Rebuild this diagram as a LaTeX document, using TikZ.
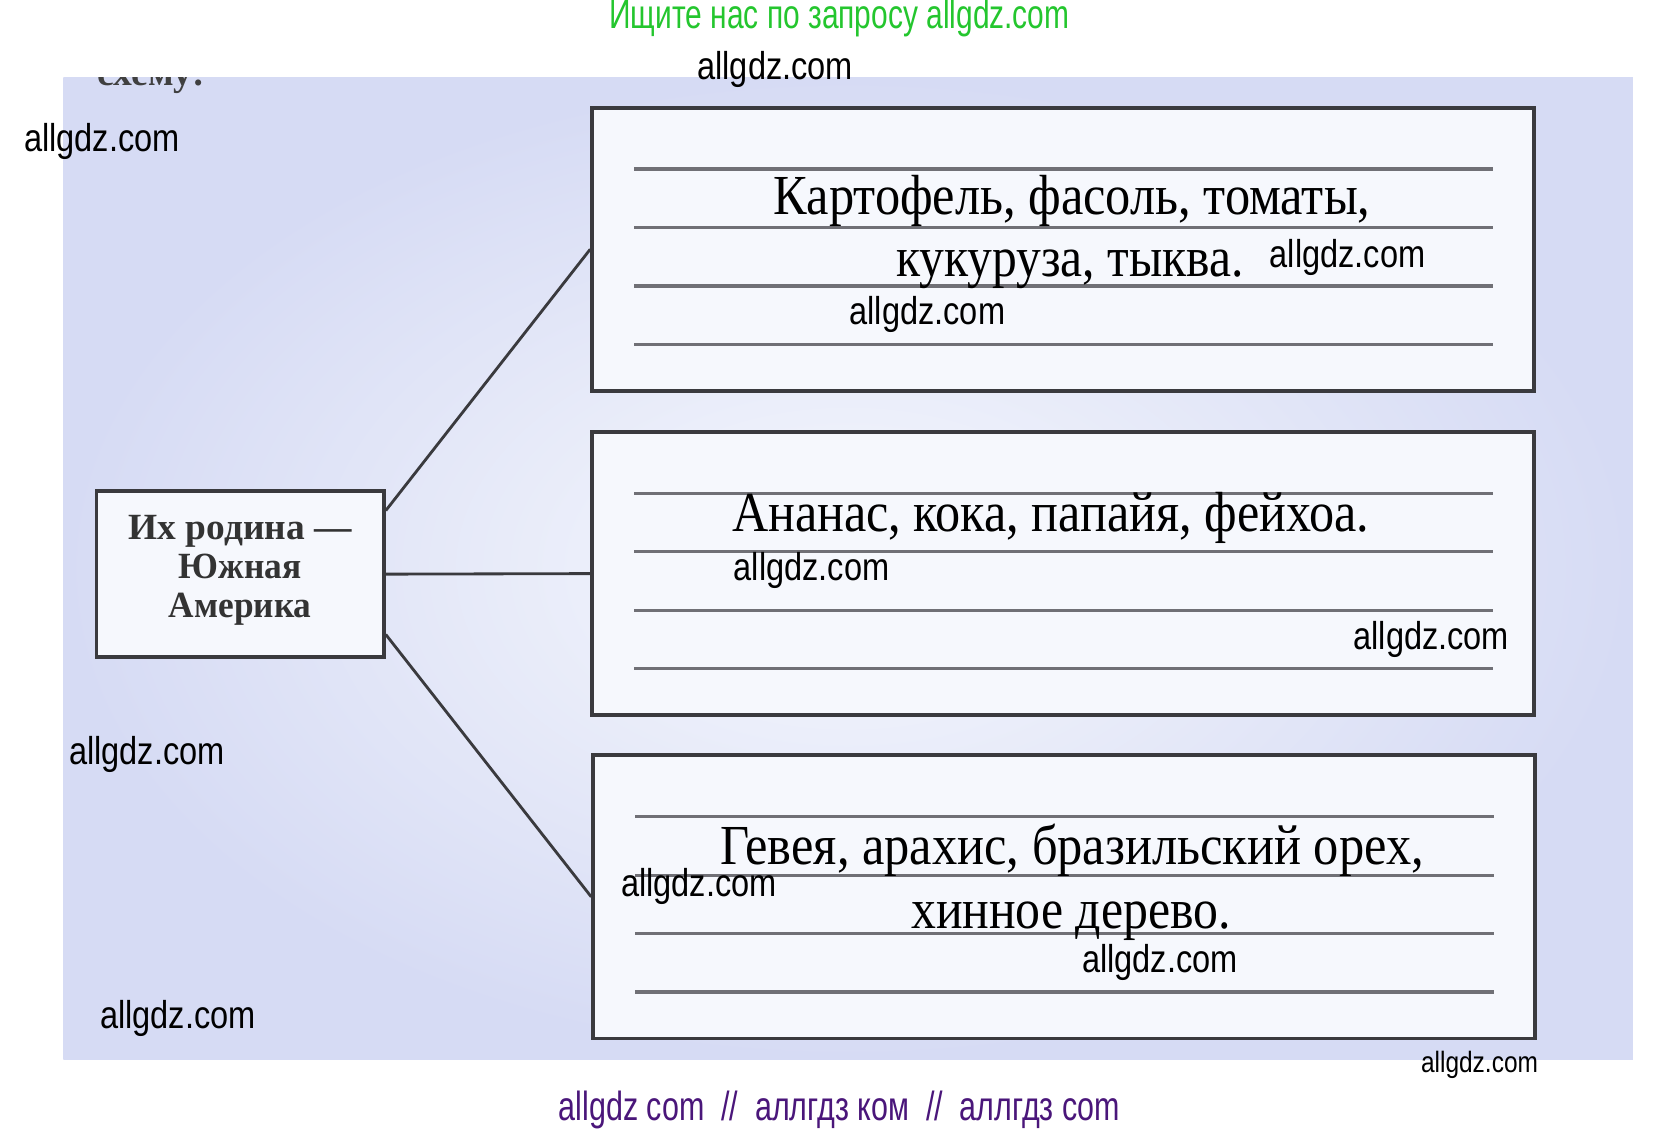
\documentclass[tikz,border=0pt]{standalone}
\usepackage{fontspec}
\setmainfont{Liberation Serif}
\newfontfamily\wmfont{Liberation Sans}
\usepackage{graphicx}
\usepackage{xcolor}
\usetikzlibrary{positioning}
\definecolor{pageblue}{RGB}{214,219,244}
\definecolor{paperwhite}{RGB}{246,248,253}
\definecolor{framegray}{RGB}{58,58,62}
\definecolor{rulegray}{RGB}{112,112,118}
\definecolor{promogreen}{RGB}{36,198,46}
\definecolor{promopurple}{RGB}{74,22,122}
\newcommand{\squeeze}[2]{\resizebox{#1}{\height}{#2}}
\tikzset{
  answerbox/.style={draw=framegray, line width=1pt, fill=paperwhite,
    minimum width=8.78cm, minimum height=2.64cm, inner sep=0pt},
  homebox/.style={draw=framegray, line width=1pt, fill=paperwhite,
    minimum width=2.68cm, minimum height=1.55cm, inner sep=0pt},
  rule/.style={draw=rulegray, line width=0.85pt},
  link/.style={draw=framegray, line width=0.75pt},
  answertext/.style={anchor=base, inner sep=0pt, font=\fontsize{15}{17}\selectfont},
  hometext/.style={anchor=base, inner sep=0pt, font=\fontsize{9.8}{11}\selectfont\bfseries, text=black!80},
  wmark/.style={anchor=center, inner sep=0pt, font=\wmfont\fontsize{10.3}{12}\selectfont}
}

\begin{document}
\begin{tikzpicture}[x=0.01cm, y=-0.01cm]
	\useasboundingbox (0,0) rectangle (1567,1056);
	\fill[white] (0,0) rectangle (1567,1056);
	% the scanned page
	\shade[inner color=paperwhite, outer color=pageblue] (59,72) rectangle (1523,988);
	\begin{scope}
		\clip (59,72) rectangle (1523,988);
		\node[anchor=base west, inner sep=0pt, font=\fontsize{10}{12}\selectfont\bfseries, text=black!75] (task) at (90,80) {\squeeze{1cm}{схему:}};
	\end{scope}

	% boxes
	\node[homebox] (home) at (224,535.5) {};
	\node[answerbox] (potato) at (991.5,232.5) {};
	\node[answerbox] (pineapple) at (991.5,535) {};
	\node[answerbox] (rubber) at (992.5,836.5) {};

	% writing lines
	\foreach \b in {potato,pineapple,rubber}
		\foreach \k in {0,...,3}
			\draw[rule] ([xshift=0.41cm, yshift=-0.59cm-\k*0.545cm]\b.north west) -- ([xshift=-0.4cm, yshift=-0.59cm-\k*0.545cm]\b.north east);

	% texts
	\node[hometext] (homeA) at (224,503) {\squeeze{2.08cm}{Их родина —}};
	\node[hometext] (homeB) at (224,540) {\squeeze{1.15cm}{Южная}};
	\node[hometext] (homeC) at (224,576) {\squeeze{1.33cm}{Америка}};

	\node[answertext] (potatoA) at (1000,200) {\squeeze{5.56cm}{Картофель, фасоль, томаты,}};
	\node[answertext] (potatoB) at (998,258) {\squeeze{3.24cm}{кукуруза, тыква.}};
	\node[answertext] (pineappleA) at (980,496) {\squeeze{5.94cm}{Ананас, кока, папайя, фейхоа.}};
	\node[answertext] (rubberA) at (1000,806) {\squeeze{6.56cm}{Гевея, арахис, бразильский орех,}};
	\node[answertext] (rubberB) at (999,866) {\squeeze{2.98cm}{хинное дерево.}};

	% connectors
	\draw[link] ([yshift=-0.2cm]home.north east) -- (potato.west);
	\draw[link] (home.east) -- (pineapple.west);
	\draw[link] ([yshift=0.23cm]home.south east) -- (rubber.west);

	% site marks
	\node[wmark, text=promogreen, font=\wmfont\fontsize{10.8}{12}\selectfont] (promo) at (783,17) {\squeeze{4.29cm}{Ищите нас по запросу allgdz.com}};
	\node[wmark, text=promopurple, font=\wmfont\fontsize{10.8}{12}\selectfont] (footer) at (783,1035) {\squeeze{5.23cm}{allgdz com\ \ //\ \ аллгдз ком\ \ //\ \ аллгдз com}};
	\foreach \x/\y [count=\i] in {723/65, 95/132, 1257/240, 865/293, 757/532, 1335/596, 137/704, 652/827, 1082/898, 166/950}
		\node[wmark] (site\i) at (\x,\y) {\squeeze{1.45cm}{allgdz.com}};
	\node[wmark, font=\wmfont\fontsize{7.8}{9}\selectfont] (siteS) at (1380,993) {\squeeze{1.09cm}{allgdz.com}};
\end{tikzpicture}
\end{document}
